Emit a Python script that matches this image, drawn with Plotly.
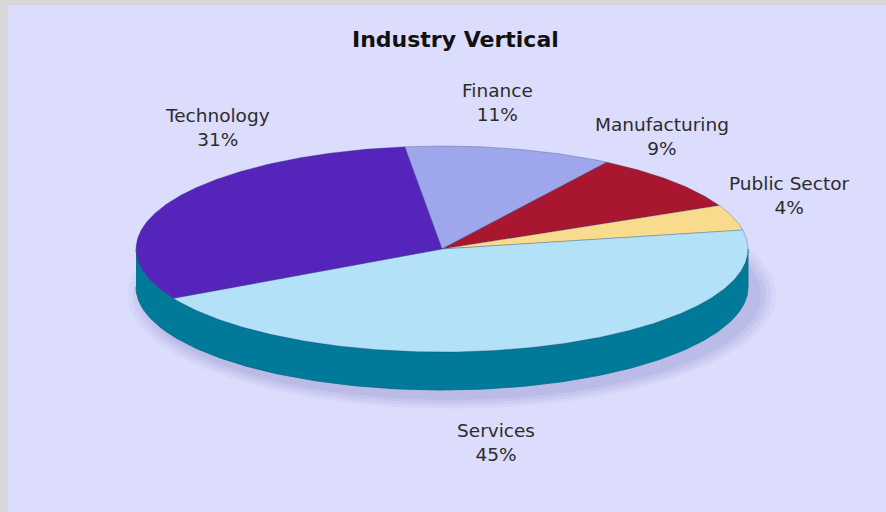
import numpy as np
import plotly.graph_objects as go

# Share of revenue by industry vertical (percent)
categories = ["Finance", "Manufacturing", "Public Sector", "Services", "Technology"]
shares = [11, 9, 4, 45, 31]
slice_colors = ["#9ea6ec", "#a8172f", "#f8db8c", "#b3e2f8", "#5524bb"]

W, H = 886, 512
CX, CY = 442, 249          # centre of the top face (pixels)
RX, RY = 306, 103          # radii of the top face
DEPTH = 38                 # thickness of the disc
START = 97                 # angle of the first slice edge, slices run clockwise
SIDE_COLOR = "#007a98"
FONT = "DejaVu Sans"

fig = go.Figure()


def ellipse_pt(theta_deg, rx=RX, ry=RY, dx=0.0, dy=0.0):
    t = np.radians(theta_deg)
    return CX + dx + rx * np.cos(t), CY - ry * np.sin(t) + dy


# soft drop shadow under the disc, cast down and to the right
th = np.linspace(0, 360, 181)
for k, alpha in enumerate([0.05, 0.06, 0.07, 0.08]):
    grow = 18 - 5 * k
    x, y = ellipse_pt(th, RX + grow, RY + grow * 0.6, dx=10, dy=DEPTH + 8)
    fig.add_trace(go.Scatter(x=x, y=y, mode="lines", fill="toself",
                             fillcolor=f"rgba(90,90,170,{alpha})",
                             line=dict(width=0), hoverinfo="skip"))

# visible front wall of the disc
th_front = np.linspace(180, 360, 181)
xt, yt = ellipse_pt(th_front)
xb, yb = ellipse_pt(th_front[::-1], dy=DEPTH)
fig.add_trace(go.Scatter(x=np.concatenate([xt, xb]), y=np.concatenate([yt, yb]),
                         mode="lines", fill="toself", fillcolor=SIDE_COLOR,
                         line=dict(color="#006a86", width=0.8), hoverinfo="skip"))

# top face slices
total = float(sum(shares))
edges = [START]
for v in shares:
    edges.append(edges[-1] - 360.0 * v / total)

for i, (name, v) in enumerate(zip(categories, shares)):
    a0, a1 = edges[i], edges[i + 1]
    th_s = np.linspace(a0, a1, max(8, int(abs(a0 - a1) * 2)))
    x, y = ellipse_pt(th_s)
    fig.add_trace(go.Scatter(x=np.concatenate([[CX], x, [CX]]),
                             y=np.concatenate([[CY], y, [CY]]),
                             mode="lines", fill="toself", fillcolor=slice_colors[i],
                             line=dict(color="rgba(40,70,110,0.45)", width=0.7),
                             name=name, hoverinfo="skip"))

# category labels placed around the disc from each slice's mid angle,
# with small nudges so they sit clear of the rim
label_nudge = {
    "Finance": (-18, 0),
    "Manufacturing": (-28, -14),
    "Public Sector": (33, -8),
    "Services": (-57, 14),
    "Technology": (69, -53),
}
for i, (name, v) in enumerate(zip(categories, shares)):
    mid = (edges[i] + edges[i + 1]) / 2
    lx, ly = ellipse_pt(mid, 330, 150)
    if np.sin(np.radians(mid)) < 0:
        ly += DEPTH
    ndx, ndy = label_nudge.get(name, (0, 0))
    fig.add_annotation(x=lx, y=ly, xref="x", yref="y", showarrow=False,
                       text=f"{name}<br>{100 * v / total:.0f}%",
                       xshift=ndx, yshift=-ndy,
                       font=dict(family=FONT, size=18.5, color="#2c2c2c"))

fig.add_annotation(x=455, y=39, xref="x", yref="y", showarrow=False,
                   text="<b>Industry Vertical</b>",
                   font=dict(family=FONT, size=22, color="#111111"))

fig.update_layout(
    width=W, height=H, autosize=False,
    margin=dict(l=0, r=0, t=0, b=0),
    paper_bgcolor="#d7d7d7", plot_bgcolor="rgba(0,0,0,0)",
    showlegend=False,
    xaxis=dict(range=[0, W], visible=False, fixedrange=True),
    yaxis=dict(range=[H, 0], visible=False, fixedrange=True),
    shapes=[dict(type="rect", xref="x", yref="y", x0=8, y0=5, x1=W, y1=H,
                 fillcolor="#dcdcfc", line=dict(width=0), layer="below")],
)

fig.write_html("out.html")
